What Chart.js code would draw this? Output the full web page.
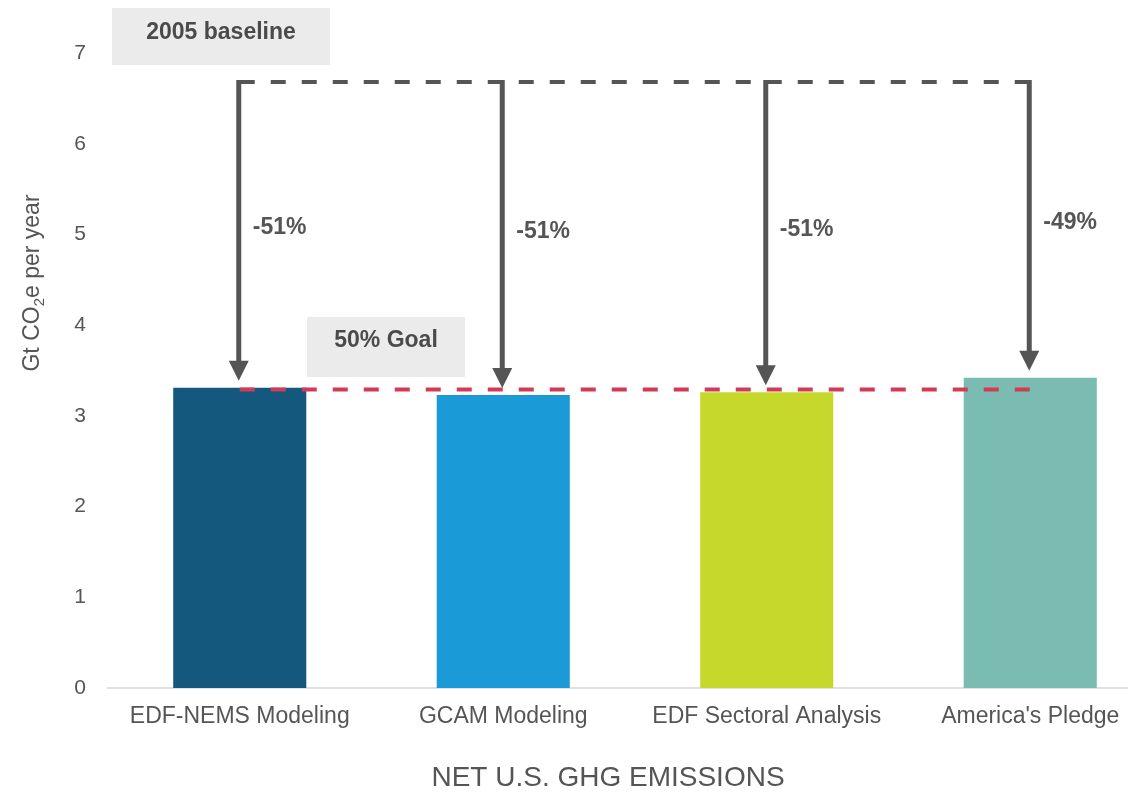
<!DOCTYPE html>
<html>
<head>
<meta charset="utf-8">
<title>Net U.S. GHG emissions</title>
<script src="https://cdn.jsdelivr.net/npm/chart.js@4.4.1/dist/chart.umd.min.js"></script>
<style>
  html, body { margin: 0; padding: 0; background: #fff; overflow: hidden; width: 1128px; height: 795px; }
  canvas { display: block; }
</style>
</head>
<body>
<!-- canvas is a bit wider than the window, the last slot runs off the right edge like in the original -->
<canvas id="myChart" width="1162" height="795"></canvas>
<script>
// data
var categories = ["EDF-NEMS Modeling", "GCAM Modeling", "EDF Sectoral Analysis", "America's Pledge"];
var emissions = [3.31, 3.23, 3.26, 3.42];
var baseline2005 = 6.68;
var goal50 = 3.29;
var changeLabels = ["-51%", "-51%", "-51%", "-49%"];
var yTicks = [0, 1, 2, 3, 4, 5, 6, 7];

var barColors = ["#15587e", "#1a9ad6", "#c6d82c", "#7abcb1"];
var fontFamily = "'Liberation Sans', Arial, Helvetica, sans-serif";

function fill(v) {
  var out = [];
  for (var i = 0; i < categories.length; i++) {
    out.push(v);
  }
  return out;
}

// grey boxes, arrows, percent labels and the y title
var annotations = {
  id: "annotations",
  beforeDatasetsDraw: function(chart) {
    var ctx = chart.ctx;
    ctx.save();
    ctx.fillStyle = "#ebebeb";
    ctx.fillRect(112, 8, 218, 57);
    ctx.fillRect(307, 317, 158, 60);
    ctx.fillStyle = "#4a4a4a";
    ctx.font = "bold 23px " + fontFamily;
    ctx.textAlign = "center";
    ctx.textBaseline = "middle";
    ctx.fillText("2005 baseline", 221, 33);
    ctx.fillText("50% Goal", 386, 341);

    // y axis title with subscript 2
    ctx.translate(31, 283);
    ctx.rotate(-Math.PI / 2);
    ctx.fillStyle = "#555";
    ctx.textAlign = "left";
    ctx.textBaseline = "alphabetic";
    var parts = ["Gt CO", "2", "e per year"];
    ctx.font = "23px " + fontFamily;
    var w1 = ctx.measureText(parts[0]).width;
    var w3 = ctx.measureText(parts[2]).width;
    ctx.font = "15px " + fontFamily;
    var w2 = ctx.measureText(parts[1]).width;
    var x0 = -(w1 + w2 + w3) / 2;
    ctx.font = "23px " + fontFamily;
    ctx.fillText(parts[0], x0, 8);
    ctx.font = "15px " + fontFamily;
    ctx.fillText(parts[1], x0 + w1, 13);
    ctx.font = "23px " + fontFamily;
    ctx.fillText(parts[2], x0 + w1 + w2, 8);
    ctx.restore();
  },
  afterDatasetsDraw: function(chart) {
    var ctx = chart.ctx;
    var xs = chart.scales.x;
    var ys = chart.scales.y;
    var top = ys.getPixelForValue(baseline2005) - 2;
    ctx.save();
    ctx.strokeStyle = "#555";
    ctx.fillStyle = "#555";
    ctx.lineWidth = 5;
    for (var i = 0; i < categories.length; i++) {
      var x = xs.getPixelForValue(i) - 1;
      var barTop = ys.getPixelForValue(emissions[i]);
      var tip = barTop - 7;
      ctx.beginPath();
      ctx.moveTo(x, top);
      ctx.lineTo(x, tip - 18);
      ctx.stroke();
      ctx.beginPath();
      ctx.moveTo(x - 10, tip - 20);
      ctx.lineTo(x + 10, tip - 20);
      ctx.lineTo(x, tip);
      ctx.closePath();
      ctx.fill();

      ctx.font = "bold 23px " + fontFamily;
      ctx.textAlign = "left";
      ctx.textBaseline = "middle";
      ctx.fillText(changeLabels[i], x + 14, (top + barTop) / 2 - 6);
    }
    ctx.restore();
  }
};

var ctx = document.getElementById("myChart").getContext("2d");
var chart = new Chart(ctx, {
  type: "bar",
  data: {
    labels: categories,
    datasets: [
      {
        type: "line",
        label: "2005 baseline",
        data: fill(baseline2005),
        borderColor: "#555",
        borderWidth: 4,
        borderDash: [15, 16],
        pointRadius: 0,
        fill: false,
        order: 0
      },
      {
        type: "line",
        label: "50% Goal",
        data: fill(goal50),
        borderColor: "#d23a55",
        borderWidth: 4,
        borderDash: [15, 16],
        pointRadius: 0,
        fill: false,
        order: 0
      },
      {
        label: "Net emissions",
        data: emissions,
        backgroundColor: barColors,
        borderWidth: 0,
        categoryPercentage: 1,
        barPercentage: 0.505,
        order: 1
      }
    ]
  },
  options: {
    responsive: false,
    animation: false,
    layout: {
      padding: { left: 54, right: 0, top: 53, bottom: 0 }
    },
    plugins: {
      legend: { display: false },
      tooltip: { enabled: false },
      title: {
        display: true,
        position: "bottom",
        text: "NET U.S. GHG EMISSIONS",
        color: "#555",
        font: { family: fontFamily, size: 28, weight: "normal" },
        padding: { top: 9, bottom: 0 }
      }
    },
    scales: {
      x: {
        offset: true,
        grid: { display: false, drawTicks: false },
        border: { display: true, color: "#e0e0e0", width: 2 },
        ticks: {
          color: "#555",
          font: { family: fontFamily, size: 23 },
          padding: 15,
          maxRotation: 0,
          autoSkip: false
        },
        afterFit: function(scale) {
          scale.height = 64.4;
        }
      },
      y: {
        min: 0,
        max: 7,
        grid: { display: false, drawTicks: false },
        border: { display: false },
        afterBuildTicks: function(scale) {
          scale.ticks = yTicks.map(function(v) { return { value: v }; });
        },
        ticks: {
          color: "#555",
          font: { family: fontFamily, size: 21 },
          padding: 22
        },
        afterFit: function(scale) {
          scale.width = 54;
        }
      }
    }
  },
  plugins: [annotations]
});
</script>
</body>
</html>
